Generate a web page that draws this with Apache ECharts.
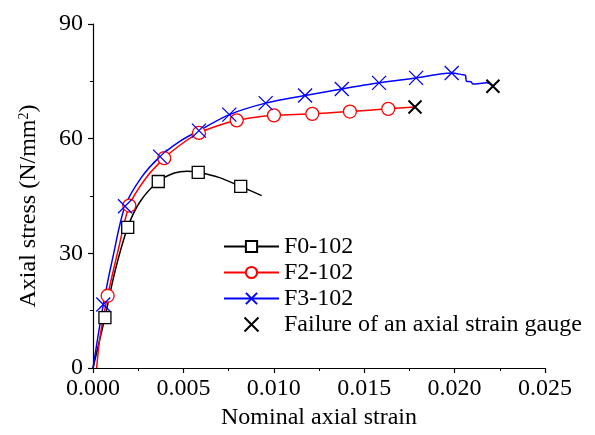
<!DOCTYPE html>
<html>
<head>
<meta charset="utf-8">
<script src="https://cdn.jsdelivr.net/npm/echarts@6/dist/echarts.min.js"></script>
<style>
  html, body { margin: 0; padding: 0; background: #fff; }
  #chart { width: 595px; height: 435px; }
</style>
</head>
<body>
<div id="chart"></div>
<script>
'use strict'

// F0-102 (black, squares)
const f0Strain = [0, 0.0003, 0.00066, 0.0012, 0.00192, 0.0026, 0.00361, 0.0045, 0.0052, 0.00582, 0.007, 0.00817, 0.00933]
const f0Stress = [0, 6, 13.2, 25, 36.8, 43.5, 48.8, 51, 51.5, 51.2, 49.8, 47.5, 45.1]
const f0Marks = [2, 4, 6, 9, 11]

// F2-102 (red, circles)
const f2Strain = [0.0002, 0.0004, 0.00081, 0.0014, 0.00201, 0.0029, 0.00394, 0.0049, 0.00586, 0.0069, 0.00795, 0.009, 0.01001, 0.01213, 0.01421, 0.01633, 0.01781]
const f2Stress = [0, 8.5, 18.9, 31, 42.5, 49.5, 54.9, 58.6, 61.5, 63.4, 64.8, 65.6, 66.1, 66.5, 67.1, 67.8, 68.3]
const f2Marks = [2, 4, 6, 8, 10, 12, 13, 14, 15]

// F3-102 (blue, crosses)
const f3Strain = [0, 0.00057, 0.0011, 0.00177, 0.0027, 0.00371, 0.0048, 0.00586, 0.00754, 0.00955, 0.01173, 0.01376, 0.01582, 0.01787, 0.01984, 0.02048, 0.0206, 0.02066, 0.0209, 0.02102, 0.02178, 0.02212]
const f3Stress = [0, 16.6, 29, 42.3, 50, 55.3, 59.3, 62.1, 66.3, 69.3, 71.3, 73.0, 74.6, 75.9, 77.2, 76.7, 76.6, 75.0, 74.9, 74.3, 74.6, 73.7]
const f3Marks = [1, 3, 5, 7, 8, 9, 10, 11, 12, 13, 14]

// failure of an axial strain gauge
const failStrain = [0.01781, 0.02212]
const failStress = [68.3, 73.7]

const xTicks = { min: 0, max: 0.025, step: 0.005 }
const yTicks = { min: 0, max: 90, step: 30 }

const FONT = 'Liberation Serif'
const crossPath = 'path://M0,0L10,10M10,0L0,10'

function buildData(xs, ys, marks) {
  return xs.map((x, i) => {
    const item = { value: [x, ys[i]] }
    if (marks.indexOf(i) < 0) item.symbol = 'none'
    return item
  })
}

function curve(name, xs, ys, marks, color, symbol, size, fill) {
  return {
    name: name,
    type: 'line',
    data: buildData(xs, ys, marks),
    smooth: 0.3,
    symbol: symbol,
    symbolSize: size,
    showAllSymbol: true,
    lineStyle: { color: color, width: 1.5 },
    itemStyle: { color: fill, borderColor: color, borderWidth: 1.3, opacity: 1 },
    emphasis: { disabled: true },
    z: 2
  }
}

const chart = echarts.init(document.getElementById('chart'), null, { renderer: 'canvas' })

const axisCommon = {
  type: 'value',
  axisLine: { show: true, lineStyle: { color: '#000', width: 1.2 } },
  axisTick: { show: true, inside: false, length: 5, lineStyle: { color: '#000', width: 1.2 } },
  minorTick: { show: true, splitNumber: 2, length: 3, lineStyle: { color: '#000', width: 1 } },
  splitLine: { show: false },
  nameLocation: 'middle'
}

const option = {
  animation: false,
  backgroundColor: '#fff',
  grid: { left: 93, right: 50, top: 24, bottom: 67 },
  xAxis: Object.assign({}, axisCommon, {
    min: xTicks.min,
    max: xTicks.max,
    interval: xTicks.step,
    name: 'Nominal axial strain',
    nameGap: 38,
    nameTextStyle: { fontFamily: FONT, fontSize: 24, color: '#000' },
    axisLabel: {
      margin: 9,
      fontFamily: FONT, fontSize: 24, color: '#000',
      formatter: v => v.toFixed(3)
    }
  }),
  yAxis: Object.assign({}, axisCommon, {
    min: yTicks.min,
    max: yTicks.max,
    interval: yTicks.step,
    name: 'Axial stress (N/mm{sup|2})',
    nameRotate: 90,
    nameGap: 52,
    nameTextStyle: {
      fontFamily: FONT, fontSize: 24, color: '#000',
      padding: [0, 20, 0, 0],
      rich: { sup: { fontFamily: FONT, fontSize: 14, color: '#000', verticalAlign: 'top', padding: [0, 0, 8, 0] } }
    },
    axisLabel: {
      margin: 10,
      fontFamily: FONT, fontSize: 24, color: '#000'
    }
  }),
  legend: {
    orient: 'vertical',
    left: 223,
    top: 234,
    padding: 0,
    itemWidth: 55,
    itemHeight: 14,
    itemGap: 1,
    textStyle: { fontFamily: FONT, fontSize: 24, color: '#000', lineHeight: 25 },
    data: ['F0-102', 'F2-102', 'F3-102', 'Failure of an axial strain gauge']
  },
  series: [
    curve('F0-102', f0Strain, f0Stress, f0Marks, '#000', 'rect', 12, '#fff'),
    curve('F2-102', f2Strain, f2Stress, f2Marks, '#ff0000', 'circle', 13, '#fff'),
    curve('F3-102', f3Strain, f3Stress, f3Marks, '#0000ff', crossPath, 14, '#0000ff'),
    {
      name: 'Failure of an axial strain gauge',
      type: 'scatter',
      data: failStrain.map((x, i) => [x, failStress[i]]),
      symbol: crossPath,
      symbolSize: 13,
      itemStyle: { color: '#000', borderColor: '#000', borderWidth: 2, opacity: 1 },
      emphasis: { disabled: true },
      z: 3
    }
  ]
}

chart.setOption(option)
</script>
</body>
</html>
